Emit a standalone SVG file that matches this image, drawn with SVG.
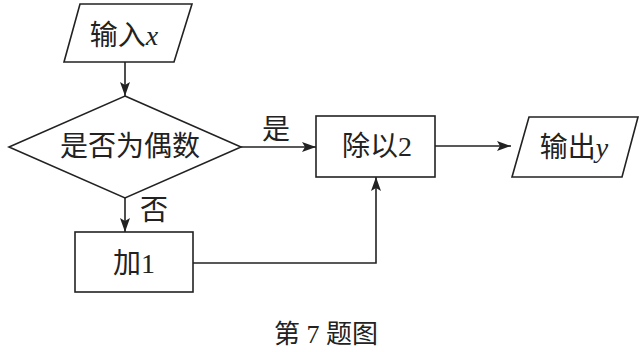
<svg xmlns="http://www.w3.org/2000/svg" width="642" height="352" viewBox="0 0 642 352">
<style>
.s{fill:#fff;stroke:#222;stroke-width:1.6}
.c{fill:none;stroke:#222;stroke-width:1.6}
.t{font-family:"Liberation Serif","Noto Sans CJK SC",serif;font-size:28px;fill:#222;text-anchor:middle;dominant-baseline:central}
.i{font-style:italic}
</style>
<defs>
<marker id="a" viewBox="0 0 14 10" refX="14" refY="5" markerWidth="14" markerHeight="10" markerUnits="userSpaceOnUse" orient="auto">
<path d="M0,0 L14,5 L0,10 L3,5 Z" fill="#222"/>
</marker>
</defs>
<g id="connectors">
<line class="c" x1="125" y1="62" x2="125" y2="96" marker-end="url(#a)"/>
<line class="c" x1="241" y1="147" x2="316" y2="147" marker-end="url(#a)"/>
<line class="c" x1="125" y1="198" x2="125" y2="232" marker-end="url(#a)"/>
<line class="c" x1="435" y1="146" x2="511" y2="146" marker-end="url(#a)"/>
<polyline class="c" points="193,263 376,263 376,177" marker-end="url(#a)"/>
<text class="t" x="276" y="129">是</text>
<text class="t" x="154" y="210">否</text>
</g>
<g id="input">
<polygon class="s" points="80,4 192,4 174,62 64,62"/>
<text class="t" x="124" y="35">输入<tspan class="i">x</tspan></text>
</g>
<g id="decision">
<polygon class="s" points="125,96 241,147 125,198 9,147"/>
<text class="t" x="130" y="146">是否为偶数</text>
</g>
<g id="add1">
<rect class="s" x="75" y="232" width="118" height="60"/>
<text class="t" x="134" y="263">加1</text>
</g>
<g id="div2">
<rect class="s" x="316" y="116" width="119" height="61"/>
<text class="t" x="377" y="146">除以2</text>
</g>
<g id="output">
<polygon class="s" points="529,117 638,117 622,177 512,177"/>
<text class="t" x="574" y="147">输出<tspan class="i">y</tspan></text>
</g>
<text class="t" x="326" y="334" style="font-size:26px">第 7 题图</text>
</svg>
